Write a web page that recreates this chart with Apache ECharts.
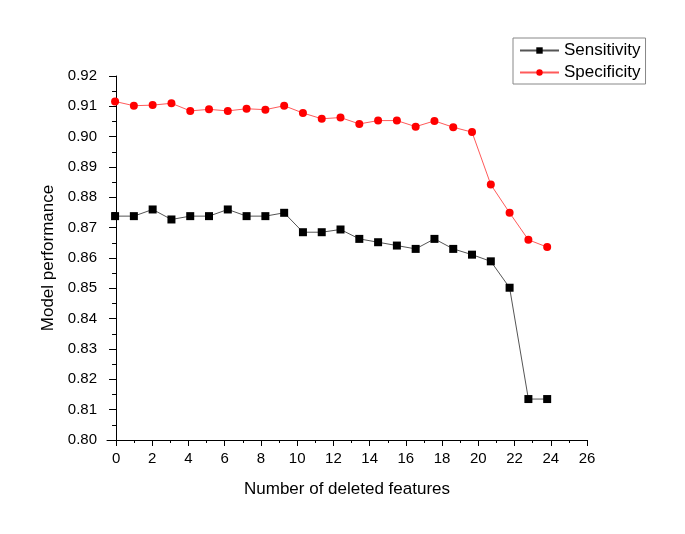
<!DOCTYPE html>
<html>
<head>
<meta charset="utf-8">
<script src="https://cdn.jsdelivr.net/npm/echarts@6/dist/echarts.min.js"></script>
<style>
  html, body { margin: 0; padding: 0; background: #fff; }
  #chart { width: 685px; height: 534px; }
</style>
</head>
<body>
<div id="chart"></div>
<script>
// number of deleted features (one point per step)
const features = [0, 1, 2, 3, 4, 5, 6, 7, 8, 9, 10, 11, 12, 13, 14, 15, 16, 17, 18, 19, 20, 21, 22, 23];

const sensitivity = [
  0.8738, 0.8738, 0.8760, 0.8727, 0.8738, 0.8738, 0.8760, 0.8738, 0.8738, 0.8749,
  0.8685, 0.8685, 0.8694, 0.8663, 0.8652, 0.8641, 0.8630, 0.8663, 0.8630, 0.8611,
  0.8589, 0.8502, 0.8135, 0.8135
];

const specificity = [
  0.9116, 0.9102, 0.9104, 0.9110, 0.9085, 0.9090, 0.9085, 0.9092, 0.9089, 0.9102,
  0.9078, 0.9059, 0.9063, 0.9042, 0.9053, 0.9053, 0.9033, 0.9052, 0.9031, 0.9015,
  0.8842, 0.8749, 0.8660, 0.8636
];

// x tick labels and the small ticks in between
const xTicks = [0, 2, 4, 6, 8, 10, 12, 14, 16, 18, 20, 22, 24, 26];
const xMinorTicks = [1, 3, 5, 7, 9, 11, 13, 15, 17, 19, 21, 23, 25];

const font = "'Liberation Sans', Arial, sans-serif";

const chart = echarts.init(document.getElementById("chart"));

chart.setOption({
  backgroundColor: "#fff",
  animation: false,
  textStyle: { fontFamily: font },

  grid: { left: 107, top: 76, width: 480, height: 364 },

  legend: {
    orient: "vertical",
    left: 513,
    top: 38,
    padding: [4, 5, 3, 6],
    itemWidth: 39,
    itemHeight: 8,
    itemGap: 5,
    borderColor: "#888",
    borderWidth: 1,
    textStyle: { fontSize: 17, color: "#000", fontFamily: font },
    data: ["Sensitivity", "Specificity"],
  },

  xAxis: [
    {
      type: "value",
      position: "bottom",
      min: -0.5,
      max: 26,
      name: "Number of deleted features",
      nameLocation: "middle",
      nameGap: 41,
      nameTextStyle: { fontSize: 17, color: "#000" },
      splitLine: { show: false },
      axisLine: { lineStyle: { color: "#000", width: 1 } },
      axisTick: { length: 6, customValues: xTicks, lineStyle: { color: "#000" } },
      axisLabel: {
        fontSize: 15,
        color: "#000",
        margin: 11,
        customValues: xTicks,
      },
    },
    {
      // minor ticks only
      type: "value",
      position: "bottom",
      min: -0.5,
      max: 26,
      axisLine: { show: false },
      splitLine: { show: false },
      axisTick: { length: 3, customValues: xMinorTicks, lineStyle: { color: "#000" } },
      axisLabel: { show: false },
    },
    {
      // data positions sit slightly wider than the printed ticks in the source
      type: "value",
      min: -0.43,
      max: 25.12,
      show: false,
    },
  ],

  yAxis: {
    type: "value",
    min: 0.8,
    max: 0.92,
    interval: 0.01,
    name: "Model performance",
    nameLocation: "middle",
    nameGap: 50,
    nameTextStyle: { fontSize: 17, color: "#000" },
    splitLine: { show: false },
    axisLine: { show: true, lineStyle: { color: "#000", width: 1 } },
    axisTick: { show: true, length: 7, lineStyle: { color: "#000" } },
    minorTick: { show: true, splitNumber: 2, length: 4, lineStyle: { color: "#000" } },
    axisLabel: {
      fontSize: 15,
      color: "#000",
      margin: 10,
      formatter: (v) => v.toFixed(2),
    },
  },

  series: [
    {
      name: "Sensitivity",
      type: "line",
      xAxisIndex: 2,
      data: features.map((f, i) => [f, sensitivity[i]]),
      symbol: "rect",
      symbolSize: 8,
      itemStyle: { color: "#000" },
      lineStyle: { color: "#555", width: 1 },
    },
    {
      name: "Specificity",
      type: "line",
      xAxisIndex: 2,
      data: features.map((f, i) => [f, specificity[i]]),
      symbol: "circle",
      symbolSize: 8,
      itemStyle: { color: "#ff0000" },
      lineStyle: { color: "#ff5a5a", width: 1 },
    },
  ],
});
</script>
</body>
</html>
